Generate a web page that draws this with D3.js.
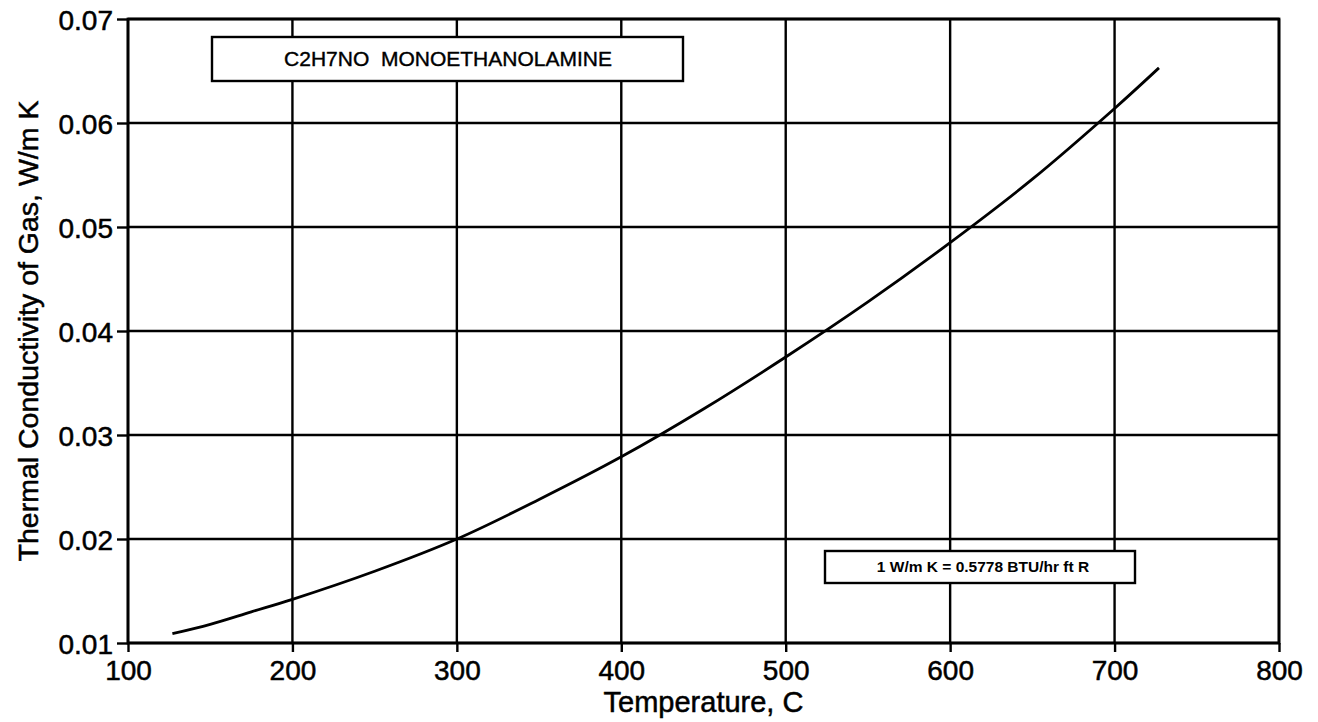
<!DOCTYPE html>
<html><head><meta charset="utf-8">
<script src="https://cdn.jsdelivr.net/npm/d3@7"></script>
<style>body{margin:0;background:#fff}svg{display:block}text{font-family:"Liberation Sans",Arial,sans-serif}</style>
</head><body>
<script>
const temps = [127,150,175,200,250,300,350,400,450,500,550,600,650,700,727];
const conductivity = [0.0109,0.0118,0.0130,0.0142,0.0169,0.0200,0.0238,0.0279,0.0325,0.0375,0.0428,0.0485,0.0546,0.0614,0.0653];
const xTicks = [100,200,300,400,500,600,700,800];
const yTicks = [0.01,0.02,0.03,0.04,0.05,0.06,0.07];
const titleText = "C2H7NO  MONOETHANOLAMINE";
const noteText = "1 W/m K = 0.5778 BTU/hr ft R";
const xLabel = "Temperature, C";
const yLabel = "Thermal Conductivity of Gas, W/m K";

const W=1318,H=722;
const L=128,R=1279,T=19,B=643;
const svg=d3.select("body").append("svg").attr("width",W).attr("height",H);
const x=d3.scaleLinear().domain([100,800]).range([L,R]);
const y=d3.scaleLinear().domain([0.01,0.07]).range([B,T]);

// grid
svg.append("g").selectAll("line").data(xTicks).join("line")
  .attr("x1",d=>x(d)).attr("x2",d=>x(d)).attr("y1",T).attr("y2",B)
  .attr("stroke","#000").attr("stroke-width",2.4);
svg.append("g").selectAll("line").data(yTicks).join("line")
  .attr("x1",L).attr("x2",R).attr("y1",d=>y(d)).attr("y2",d=>y(d))
  .attr("stroke","#000").attr("stroke-width",2.4);

// axes
const xa=svg.append("g").attr("transform",`translate(0,${B})`)
  .call(d3.axisBottom(x).tickValues(xTicks).tickFormat(d3.format("d")).tickSize(9).tickSizeOuter(0));
const ya=svg.append("g").attr("transform",`translate(${L},0)`)
  .call(d3.axisLeft(y).tickValues(yTicks).tickFormat(d3.format(".2f")).tickSize(11).tickSizeOuter(0));
[xa,ya].forEach(a=>{a.select(".domain").remove();a.selectAll("line").attr("stroke","#000").attr("stroke-width",2.4);
  a.selectAll("text").attr("fill","#000").style("font-size","28px").style("font-family","'Liberation Sans',Arial,sans-serif")
   .attr("stroke","#000").attr("stroke-width",0.5);});
xa.selectAll("text").attr("dy",null).attr("y",37);
ya.selectAll("text").attr("x",-15).attr("dy","0.36em");

// frame
svg.append("rect").attr("x",L).attr("y",T).attr("width",R-L).attr("height",B-T)
  .attr("fill","none").attr("stroke","#000").attr("stroke-width",2.8);

// curve
svg.append("path").datum(temps.map((t,i)=>[t,conductivity[i]]))
  .attr("d",d3.line().x(d=>x(d[0])).y(d=>y(d[1])).curve(d3.curveCatmullRom))
  .attr("fill","none").attr("stroke","#000").attr("stroke-width",2.8);

// title box
svg.append("rect").attr("x",212).attr("y",37).attr("width",471).attr("height",44)
  .attr("fill","#fff").attr("stroke","#000").attr("stroke-width",2.4);
svg.append("text").attr("x",448).attr("y",66).attr("text-anchor","middle").attr("xml:space","preserve")
  .style("white-space","pre").style("font-size","21px").attr("stroke","#000").attr("stroke-width",0.4).text(titleText);

// note box
svg.append("rect").attr("x",825).attr("y",551).attr("width",310).attr("height",32)
  .attr("fill","#fff").attr("stroke","#000").attr("stroke-width",2.4);
svg.append("text").attr("x",983).attr("y",572).attr("text-anchor","middle")
  .style("font-size","15.5px").style("font-weight","bold").text(noteText);

// axis titles
svg.append("text").attr("x",(L+R)/2).attr("y",712).attr("text-anchor","middle")
  .style("font-size","29px").attr("stroke","#000").attr("stroke-width",0.5).text(xLabel);
svg.append("text").attr("transform",`translate(38,${(T+B)/2}) rotate(-90)`).attr("text-anchor","middle")
  .style("font-size","28.5px").attr("stroke","#000").attr("stroke-width",0.5).text(yLabel);
</script>
</body></html>
